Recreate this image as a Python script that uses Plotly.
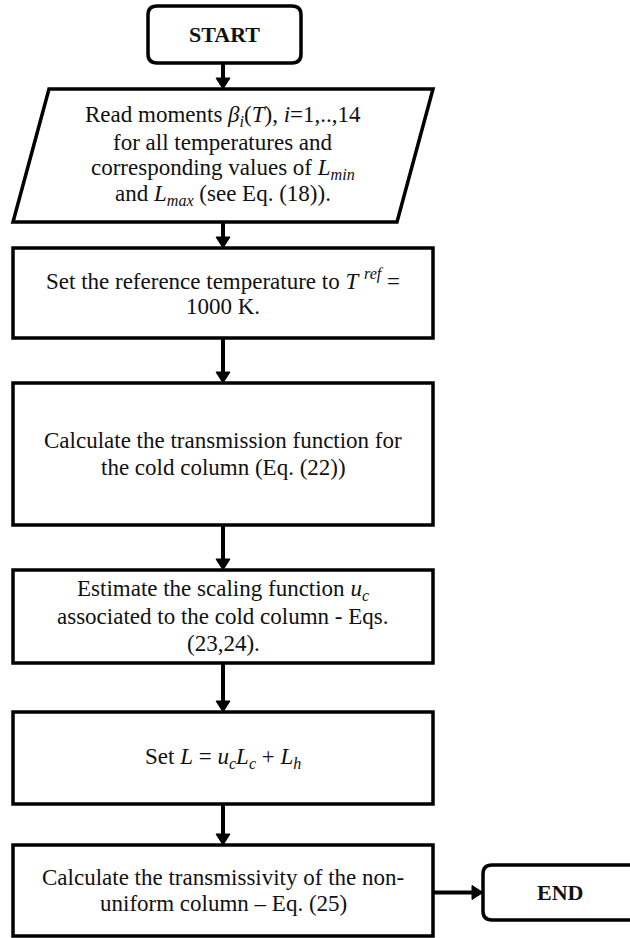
import plotly.graph_objects as go

# ---- content (flowchart steps, one list of text lines per step) ----
step_lines = [
    ["<b>START</b>"],
    ["Read moments <i>β<sub>i</sub></i>(<i>T</i>), <i>i</i>=1,..,14",
     "for all temperatures and",
     "corresponding values of <i>L<sub>min</sub></i>",
     "and <i>L<sub>max</sub></i> (see Eq. (18))."],
    ["Set the reference temperature to <i>T</i> <sup><i>ref</i></sup> =",
     "1000 K."],
    ["Calculate the transmission function for",
     "the cold column (Eq. (22))"],
    ["Estimate the scaling function <i>u<sub>c</sub></i>",
     "associated to the cold column - Eqs.",
     "(23,24)."],
    ["Set <i>L</i> = <i>u<sub>c</sub>L<sub>c</sub></i> + <i>L<sub>h</sub></i>"],
    ["Calculate the transmissivity of the non-",
     "uniform column – Eq. (25)"],
    ["<b>END</b>"],
]
step_kinds = ["terminal", "io", "process", "process", "process", "process", "process", "terminal"]
# connections: (from step, to step, direction)
links = [(0, 1, "down"), (1, 2, "down"), (2, 3, "down"), (3, 4, "down"),
         (4, 5, "down"), (5, 6, "down"), (6, 7, "right")]

# ---- geometry / style (page pixels) ----
W, H = 630, 938
boxes = [  # x0, x1, y0, y1
    (148, 301, 6, 63),
    (13, 433, 89, 222),
    (13, 433, 248, 338),
    (13, 433, 383, 525),
    (13, 433, 570, 663),
    (13, 433, 712, 804),
    (13, 433, 845, 936),
    (483, 645, 865, 920),
]
SKEW = 36
RADIUS = 9
LW = 3.5
ARROW_W = 4
ARROW_X = 223
HEAD_LEN, HEAD_HALF = 11, 7
LINE_GAP = 26.5
FONT = "Liberation Serif, Times New Roman, serif"
TXT_COLOR = "#111111"
BODY_SIZE = 23
TERM_SIZE = 22

fig = go.Figure()
shapes = []


def rounded_rect(x0, x1, y0, y1, r):
    return (f"M {x0+r},{y0} L {x1-r},{y0} Q {x1},{y0} {x1},{y0+r} "
            f"L {x1},{y1-r} Q {x1},{y1} {x1-r},{y1} L {x0+r},{y1} "
            f"Q {x0},{y1} {x0},{y1-r} L {x0},{y0+r} Q {x0},{y0} {x0+r},{y0} Z")


for (x0, x1, y0, y1), kind in zip(boxes, step_kinds):
    if kind == "terminal":
        path = rounded_rect(x0, x1, y0, y1, RADIUS)
    elif kind == "io":
        path = f"M {x0+SKEW},{y0} L {x1},{y0} L {x1-SKEW},{y1} L {x0},{y1} Z"
    else:
        path = f"M {x0},{y0} L {x1},{y0} L {x1},{y1} L {x0},{y1} Z"
    shapes.append(dict(type="path", path=path, xref="x", yref="y",
                       line=dict(color="black", width=LW), fillcolor="white",
                       layer="above"))

for a, b, d in links:
    if d == "down":
        ys, ye, x = boxes[a][3], boxes[b][2], ARROW_X
        shapes.append(dict(type="line", x0=x, x1=x, y0=ys, y1=ye - HEAD_LEN + 1,
                           xref="x", yref="y", line=dict(color="black", width=ARROW_W)))
        shapes.append(dict(type="path", xref="x", yref="y", fillcolor="black",
                           line=dict(color="black", width=1),
                           path=f"M {x-HEAD_HALF},{ye-HEAD_LEN} L {x+HEAD_HALF},{ye-HEAD_LEN} L {x},{ye} Z"))
    else:
        xs, xe = boxes[a][1], boxes[b][0]
        y = (boxes[b][2] + boxes[b][3]) / 2
        shapes.append(dict(type="line", x0=xs, x1=xe - HEAD_LEN + 1, y0=y, y1=y,
                           xref="x", yref="y", line=dict(color="black", width=ARROW_W)))
        shapes.append(dict(type="path", xref="x", yref="y", fillcolor="black",
                           line=dict(color="black", width=1),
                           path=f"M {xe-HEAD_LEN},{y-HEAD_HALF} L {xe-HEAD_LEN},{y+HEAD_HALF} L {xe},{y} Z"))

annotations = []
for i, lines in enumerate(step_lines):
    x0, x1, y0, y1 = boxes[i]
    if i == len(step_lines) - 1:
        cx = 560  # END box is cut by the page edge
    else:
        cx = (x0 + x1) / 2
    cy = (y0 + y1) / 2
    size = TERM_SIZE if step_kinds[i] == "terminal" else BODY_SIZE
    n = len(lines)
    for k, line in enumerate(lines):
        ly = cy + (k - (n - 1) / 2) * LINE_GAP
        annotations.append(dict(x=cx, y=ly, xref="x", yref="y", text=line,
                                showarrow=False, xanchor="center", yanchor="middle",
                                align="center",
                                font=dict(family=FONT, size=size, color=TXT_COLOR)))

fig.update_layout(
    width=W, height=H, margin=dict(l=0, r=0, t=0, b=0),
    paper_bgcolor="white", plot_bgcolor="white",
    xaxis=dict(range=[0, W], visible=False, fixedrange=True),
    yaxis=dict(range=[H, 0], visible=False, fixedrange=True),
    shapes=shapes, annotations=annotations, showlegend=False,
)
fig.write_html("out.html",
               post_script="document.body.style.margin='0';document.body.style.overflow='hidden';",
               config={"displayModeBar": False})
